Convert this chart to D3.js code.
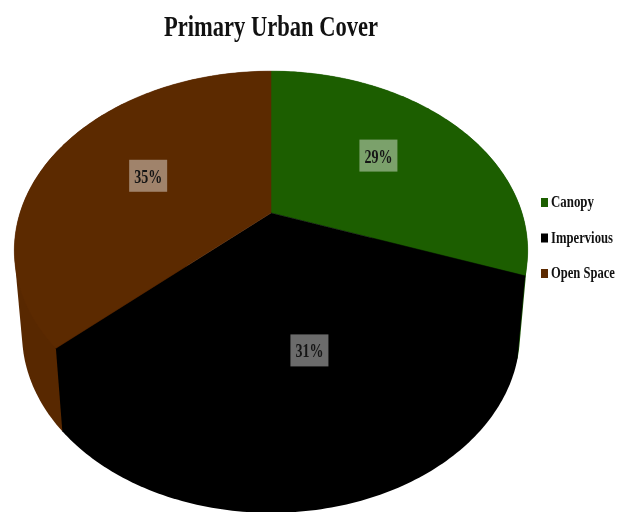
<!DOCTYPE html>
<html><head><meta charset="utf-8">
<script src="https://cdn.jsdelivr.net/npm/d3@7/dist/d3.min.js"></script>
<style>html,body{margin:0;background:#fff;overflow:hidden}svg{display:block;filter:blur(0.6px)}
text{font-family:"Liberation Serif","Times New Roman",serif;font-weight:bold;fill:#111}</style>
</head><body><svg id="c" width="624" height="512"></svg>
<script>
const titleText = "Primary Urban Cover";
const categories = ["Canopy", "Impervious", "Open Space"];
const values = [29, 31, 35];
const colors = ["#1c5e00", "#000000", "#5c2a00"];
const sideColors = ["#185200", "#000000", "#582800"];
const labelRadius = [0.58, 0.7, 0.55];
const labelNudge = [[-4, -4], [-2, 0], [-2, -1]];
const wallOrder = [2, 0, 1];

const svg = d3.select("#c");
const arcs = d3.pie().sort(null).value(d => d)(values);

// perspective projection of the unit disc onto the tilted pie
const cx = 271, apexY = 213, k = 127, c = -0.209, R = 251;
const depth = 83, shrink = 0.97;
function project(u, v, h = 0) {
  const w = 1 + c * v;
  return [cx + (R * (1 - h * (1 - shrink))) * u / w, (k * v + apexY) / w + h * depth];
}
const onDisc = (a, r = 1, h = 0) => project(r * Math.sin(a), -r * Math.cos(a), h);
const line = d3.line();
const arcAngles = d => d3.range(0, 121).map(i => d.startAngle + (d.endAngle - d.startAngle) * i / 120);

// side walls: convex hull of each slice's top and bottom rim, painted back to front;
// the top faces drawn afterwards hide everything but the visible wall
const g = svg.append("g");
g.selectAll("path.side").data(wallOrder).join("path").attr("class", "side")
  .attr("fill", i => sideColors[i])
  .attr("d", i => {
    const as = arcAngles(arcs[i]);
    return line(d3.polygonHull(as.map(a => onDisc(a, 1, 0)).concat(as.map(a => onDisc(a, 1, 1))))) + "Z";
  });
g.selectAll("path.top").data(arcs).join("path").attr("class", "top")
  .attr("fill", (d, i) => colors[i])
  .attr("stroke", (d, i) => colors[i]).attr("stroke-width", 0.5)
  .attr("d", d => line([onDisc(0, 0)].concat(arcAngles(d).map(a => onDisc(a)))) + "Z");

// value labels
const labels = svg.append("g").selectAll("g").data(arcs).join("g")
  .attr("transform", (d, i) => {
    const p = onDisc((d.startAngle + d.endAngle) / 2, labelRadius[i]);
    return `translate(${p[0] + labelNudge[i][0]},${p[1] + labelNudge[i][1]})`;
  });
labels.append("rect").attr("x", -19).attr("y", -16).attr("width", 38).attr("height", 32)
  .attr("fill", "#fff").attr("fill-opacity", 0.42);
labels.append("text").attr("text-anchor", "middle").attr("y", 7).attr("font-size", 19)
  .attr("textLength", 28).attr("lengthAdjust", "spacingAndGlyphs")
  .style("fill", "#151515").text(d => d.data + "%");

// title
svg.append("text").attr("x", 271).attr("y", 36).attr("text-anchor", "middle")
  .attr("font-size", 30).attr("textLength", 214).attr("lengthAdjust", "spacingAndGlyphs")
  .text(titleText);

// legend
const legendY = d3.scalePoint().domain(categories).range([202, 273]);
const legend = svg.append("g").selectAll("g").data(categories).join("g")
  .attr("transform", d => `translate(541,${legendY(d)})`);
legend.append("rect").attr("y", -4).attr("width", 7).attr("height", 9).attr("fill", (d, i) => colors[i]);
const legendWidths = [43, 62, 64];
legend.append("text").attr("font-size", 16)
  .text(d => d)
  .attr("transform", function (d, i) {
    return `translate(10,5) scale(${legendWidths[i] / this.getComputedTextLength()},1)`;
  });
</script></body></html>
